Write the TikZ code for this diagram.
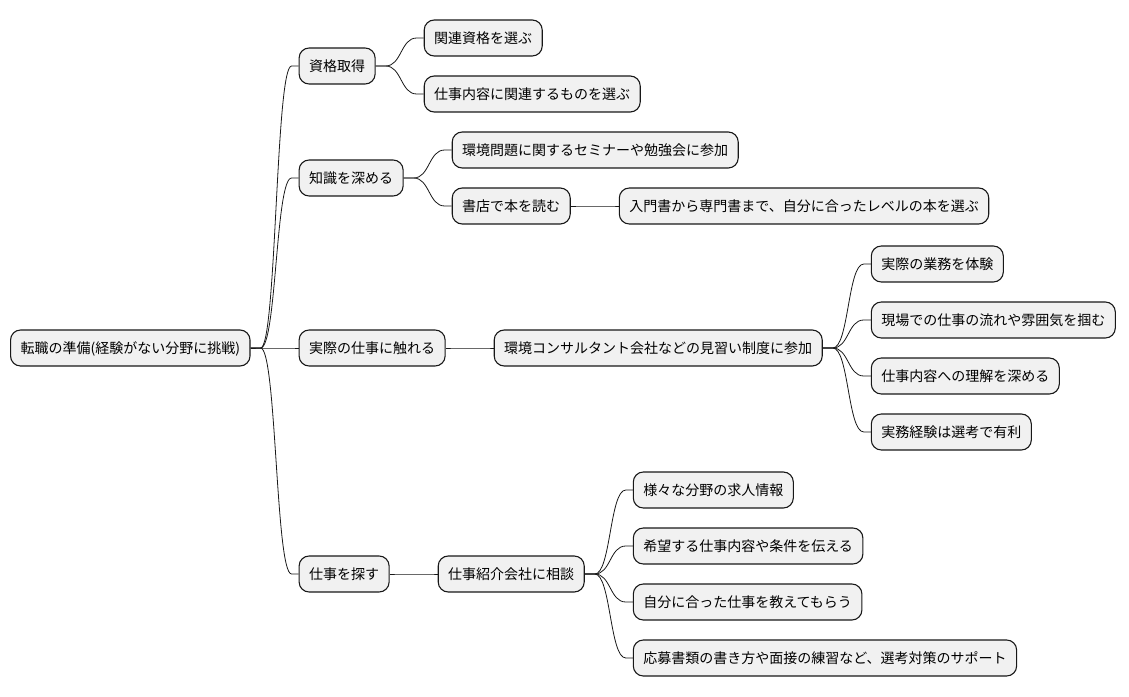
\documentclass[tikz,border=0pt]{standalone}
\usepackage{fontspec}
\newfontfamily\jpfont{Noto Sans CJK JP}
\usepackage{tikz}
\usetikzlibrary{positioning,calc}

\definecolor{boxfill}{HTML}{F1F1F1}
\definecolor{boxline}{HTML}{181818}

\tikzset{
  topic/.style={draw=boxline, fill=boxfill, line width=1.1pt, rounded corners=10pt,
    minimum height=36pt, inner xsep=10pt, text height=12pt, text depth=1.5pt,
    font=\jpfont\fontsize{14}{16}\selectfont},
  branch/.style={draw=boxline, line width=0.8pt,
    to path={-- ++(10pt,0) .. controls +(16pt,0) and ($(\tikztotarget)+(-23pt,0)$)
      .. ($(\tikztotarget)+(-7pt,0)$) -- (\tikztotarget)}}
}

\begin{document}
\begin{tikzpicture}[x=1pt, y=1pt]
\useasboundingbox (0,348) rectangle (1129,-348);

\node[topic, anchor=west] (root) at (10,0) {転職の準備(経験がない分野に挑戦)};

\node[topic, right=48pt of root, yshift=282pt] (shikaku) {資格取得};
\node[topic, right=48pt of root, yshift=170pt] (chishiki) {知識を深める};
\node[topic, right=48pt of root] (jissai) {実際の仕事に触れる};
\node[topic, right=48pt of root, yshift=-226pt] (sagasu) {仕事を探す};

\node[topic, right=48pt of shikaku, yshift=28pt] (kanren) {関連資格を選ぶ};
\node[topic, right=48pt of shikaku, yshift=-28pt] (naiyou) {仕事内容に関連するものを選ぶ};

\node[topic, right=48pt of chishiki, yshift=28pt] (seminar) {環境問題に関するセミナーや勉強会に参加};
\node[topic, right=48pt of chishiki, yshift=-28pt] (shoten) {書店で本を読む};
\node[topic, right=48pt of shoten] (nyumon) {入門書から専門書まで、自分に合ったレベルの本を選ぶ};

\node[topic, right=48pt of jissai] (minarai) {環境コンサルタント会社などの見習い制度に参加};
\node[topic, right=48pt of minarai, yshift=84pt] (taiken) {実際の業務を体験};
\node[topic, right=48pt of minarai, yshift=28pt] (genba) {現場での仕事の流れや雰囲気を掴む};
\node[topic, right=48pt of minarai, yshift=-28pt] (rikai) {仕事内容への理解を深める};
\node[topic, right=48pt of minarai, yshift=-84pt] (yuuri) {実務経験は選考で有利};

\node[topic, right=48pt of sagasu] (shokai) {仕事紹介会社に相談};
\node[topic, right=48pt of shokai, yshift=84pt] (kyujin) {様々な分野の求人情報};
\node[topic, right=48pt of shokai, yshift=28pt] (kibou) {希望する仕事内容や条件を伝える};
\node[topic, right=48pt of shokai, yshift=-28pt] (oshiete) {自分に合った仕事を教えてもらう};
\node[topic, right=48pt of shokai, yshift=-84pt] (support) {応募書類の書き方や面接の練習など、選考対策のサポート};

\draw[branch] (root.east) to (shikaku.west);
\draw[branch] (root.east) to (chishiki.west);
\draw[branch] (root.east) to (jissai.west);
\draw[branch] (root.east) to (sagasu.west);

\draw[branch] (shikaku.east) to (kanren.west);
\draw[branch] (shikaku.east) to (naiyou.west);
\draw[branch] (chishiki.east) to (seminar.west);
\draw[branch] (chishiki.east) to (shoten.west);
\draw[branch] (shoten.east) to (nyumon.west);

\draw[branch] (jissai.east) to (minarai.west);
\draw[branch] (minarai.east) to (taiken.west);
\draw[branch] (minarai.east) to (genba.west);
\draw[branch] (minarai.east) to (rikai.west);
\draw[branch] (minarai.east) to (yuuri.west);

\draw[branch] (sagasu.east) to (shokai.west);
\draw[branch] (shokai.east) to (kyujin.west);
\draw[branch] (shokai.east) to (kibou.west);
\draw[branch] (shokai.east) to (oshiete.west);
\draw[branch] (shokai.east) to (support.west);
\end{tikzpicture}
\end{document}
